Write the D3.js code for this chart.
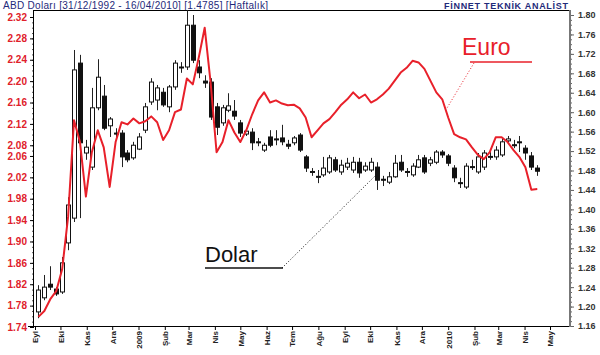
<!DOCTYPE html>
<html>
<head>
<meta charset="utf-8">
<script src="https://cdn.jsdelivr.net/npm/d3@7"></script>
<style>
  body { margin: 0; background: #fff; }
  svg { display: block; font-family: "Liberation Sans", Arial, sans-serif; }
</style>
</head>
<body>
<div id="chart"></div>
<script>
// weekly bars, first Friday of the series
const firstWeek = "2008-09-05";

// USD/TRY weekly candles (right axis)
const dolarOpen = [1.189,1.218,1.246,1.236,1.230,1.331,1.382,1.701,1.516,1.487,
  1.609,1.633,1.572,1.557,1.557,1.516,1.506,1.524,1.563,1.621,
  1.625,1.641,1.611,1.652,1.693,1.693,1.779,1.693,1.664,1.662,
  1.611,1.578,1.604,1.602,1.578,1.555,1.559,1.539,1.522,1.549,
  1.545,1.547,1.534,1.537,1.553,1.508,1.476,1.468,1.471,1.477,
  1.502,1.477,1.487,1.481,1.497,1.481,1.481,1.487,1.462,1.456,
  1.467,1.497,1.478,1.471,1.487,1.506,1.495,1.497,1.518,1.510,
  1.485,1.455,1.446,1.488,1.477,1.487,1.507,1.508,1.512,1.541,
  1.533,1.539,1.526,1.510,1.485];
const dolarHigh = [1.244,1.265,1.283,1.240,1.302,1.425,1.728,1.718,1.543,1.650,
  1.709,1.656,1.590,1.567,1.563,1.522,1.539,1.557,1.619,1.670,
  1.656,1.650,1.656,1.707,1.703,1.810,1.800,1.707,1.676,1.670,
  1.619,1.615,1.639,1.625,1.584,1.567,1.567,1.547,1.537,1.563,
  1.563,1.574,1.543,1.551,1.557,1.512,1.485,1.481,1.508,1.512,
  1.508,1.502,1.506,1.508,1.506,1.497,1.506,1.497,1.469,1.477,
  1.512,1.512,1.485,1.495,1.512,1.512,1.508,1.522,1.522,1.514,
  1.491,1.465,1.495,1.502,1.516,1.522,1.518,1.530,1.547,1.551,
  1.543,1.551,1.532,1.518,1.491];
const dolarLow = [1.176,1.213,1.234,1.222,1.226,1.316,1.374,1.382,1.502,1.481,
  1.604,1.563,1.549,1.547,1.487,1.497,1.502,1.522,1.557,1.615,
  1.604,1.611,1.600,1.646,1.681,1.687,1.701,1.670,1.650,1.584,
  1.553,1.572,1.600,1.584,1.549,1.551,1.522,1.530,1.518,1.528,
  1.532,1.532,1.524,1.532,1.518,1.477,1.469,1.454,1.467,1.473,
  1.477,1.471,1.481,1.475,1.465,1.477,1.477,1.440,1.448,1.452,
  1.465,1.477,1.467,1.467,1.485,1.473,1.489,1.493,1.506,1.489,
  1.456,1.444,1.442,1.481,1.473,1.481,1.502,1.502,1.508,1.537,
  1.526,1.518,1.502,1.481,1.469];
const dolarClose = [1.234,1.240,1.240,1.226,1.290,1.409,1.687,1.537,1.528,1.609,
  1.672,1.567,1.586,1.555,1.508,1.502,1.532,1.549,1.611,1.662,
  1.650,1.615,1.652,1.701,1.691,1.779,1.707,1.681,1.660,1.590,
  1.569,1.609,1.613,1.592,1.557,1.561,1.537,1.538,1.532,1.532,
  1.544,1.539,1.530,1.547,1.522,1.485,1.478,1.466,1.485,1.506,
  1.481,1.491,1.495,1.497,1.475,1.489,1.497,1.460,1.460,1.467,
  1.495,1.481,1.476,1.489,1.502,1.477,1.502,1.518,1.512,1.495,
  1.465,1.453,1.489,1.486,1.508,1.516,1.509,1.522,1.539,1.545,
  1.531,1.537,1.516,1.487,1.4785];

// EUR/TRY weekly close (left axis)
const euroClose = [1.759,1.770,1.792,1.807,1.848,1.946,2.127,2.086,1.984,2.067,
  2.108,2.076,2.002,2.086,2.123,2.119,2.130,2.121,2.125,2.134,
  2.123,2.090,2.108,2.142,2.147,2.205,2.194,2.244,2.300,2.197,
  2.067,2.086,2.127,2.104,2.086,2.108,2.138,2.164,2.179,2.160,
  2.164,2.158,2.155,2.156,2.149,2.132,2.095,2.108,2.121,2.129,
  2.142,2.156,2.166,2.179,2.168,2.175,2.160,2.166,2.175,2.186,
  2.201,2.216,2.225,2.238,2.235,2.223,2.201,2.179,2.166,2.132,
  2.101,2.095,2.091,2.076,2.062,2.054,2.067,2.095,2.095,2.086,
  2.071,2.058,2.039,1.997,1.998];

const euroTicks = [2.32,2.28,2.24,2.20,2.16,2.12,2.08,2.06,2.02,1.98,1.94,1.90,1.86,1.82,1.78,1.74];
const dolarTicks = [1.80,1.76,1.72,1.68,1.64,1.60,1.56,1.52,1.48,1.44,1.40,1.36,1.32,1.28,1.24,1.20,1.16];
const monthStarts = ["2008-09-01","2008-10-01","2008-11-01","2008-12-01","2009-01-01","2009-02-01",
  "2009-03-01","2009-04-01","2009-05-01","2009-06-01","2009-07-01","2009-08-01","2009-09-01",
  "2009-10-01","2009-11-01","2009-12-01","2010-01-01","2010-02-01","2010-03-01","2010-04-01","2010-05-01"];
const monthLabels = ["Eyl","Eki","Kas","Ara","2009","Şub","Mar","Nis","May","Haz","Tem","Ağu",
  "Eyl","Eki","Kas","Ara","2010","Şub","Mar","Nis","May"];

(function () {
  const L = 34, R = 570, T = 11, B = 327;
  const parse = d3.timeParse("%Y-%m-%d");

  const weeks = dolarOpen.map((o, i) => d3.timeWeek.offset(parse(firstWeek), i));
  const candles = weeks.map((d, i) => ({
    date: d, o: dolarOpen[i], h: dolarHigh[i], l: dolarLow[i], c: dolarClose[i]
  }));

  const x = d3.scaleTime()
    .domain([parse("2008-09-01"), parse("2010-05-01")])
    .range([35, 550]);
  const yEuro = d3.scaleLinear().domain([1.74, 2.32]).range([327, 17]);
  const yDolar = d3.scaleLinear().domain([1.16, 1.80]).range([326, 15]);

  const svg = d3.select("#chart").append("svg")
    .attr("width", 600)
    .attr("height", 355);

  // header
  svg.append("text")
    .attr("x", 3).attr("y", 9)
    .attr("fill", "#1f2a7a")
    .attr("textLength", 265)
    .style("font-size", "10px")
    .text("ABD Doları [31/12/1992 - 16/04/2010] [1.4785] [Haftalık]");
  svg.append("text")
    .attr("x", 568).attr("y", 9)
    .attr("text-anchor", "end")
    .attr("fill", "#1f2a7a")
    .attr("textLength", 124)
    .style("font-size", "9px")
    .style("font-weight", "bold")
    .text("FİNNET TEKNİK ANALİST");

  // left axis (euro)
  const leftMinor = svg.append("g").attr("transform", `translate(${L},0)`)
    .call(d3.axisLeft(yEuro).tickValues(d3.range(1.74, 2.325, 0.01)).tickSize(2).tickFormat(""));
  const left = svg.append("g").attr("transform", `translate(${L},0)`)
    .call(d3.axisLeft(yEuro).tickValues(euroTicks).tickSize(4).tickPadding(3).tickFormat(d3.format(".2f")));
  left.selectAll("text").attr("fill", "#e0202a").style("font-size", "10px").style("font-weight", "bold");

  // right axis (dolar)
  const rightMinor = svg.append("g").attr("transform", `translate(${R},0)`)
    .call(d3.axisRight(yDolar).tickValues(d3.range(1.16, 1.805, 0.01)).tickSize(2).tickFormat(""));
  const right = svg.append("g").attr("transform", `translate(${R},0)`)
    .call(d3.axisRight(yDolar).tickValues(dolarTicks).tickSize(4).tickPadding(4).tickFormat(d3.format(".2f")));
  right.selectAll("text").attr("fill", "#333").style("font-size", "9px").style("font-weight", "bold");

  [leftMinor, left, rightMinor, right].forEach(g => g.select(".domain").remove());
  leftMinor.selectAll("line").attr("stroke", "#555");
  rightMinor.selectAll("line").attr("stroke", "#666");
  right.selectAll("line").attr("stroke", "#666");

  // bottom axis
  const bottom = svg.append("g").attr("transform", `translate(0,${B})`)
    .call(d3.axisBottom(x)
      .tickValues(monthStarts.map(parse))
      .tickSize(3)
      .tickFormat((d, i) => monthLabels[i]));
  bottom.select(".domain").remove();
  bottom.selectAll("text")
    .attr("transform", "rotate(-90)")
    .attr("text-anchor", "end")
    .attr("x", -4).attr("y", 0).attr("dy", "0.35em")
    .attr("fill", "#222")
    .style("font-size", "8px")
    .style("font-weight", "bold");

  // frame
  svg.append("line").attr("x1", L - 1).attr("x2", R + 1).attr("y1", T - 0.5).attr("y2", T - 0.5)
    .attr("stroke", "#000");
  svg.append("line").attr("x1", L - 6).attr("x2", R + 1).attr("y1", B - 0.5).attr("y2", B - 0.5)
    .attr("stroke", "#000");
  svg.append("line").attr("x1", L - 0.5).attr("x2", L - 0.5).attr("y1", T - 1).attr("y2", B)
    .attr("stroke", "#000");
  svg.append("line").attr("x1", R).attr("x2", R).attr("y1", T - 1).attr("y2", B)
    .attr("stroke", "#777").attr("stroke-width", 2);

  // candles
  const cg = svg.append("g");
  cg.selectAll("line.wick")
    .data(candles)
    .enter().append("line")
    .attr("class", "wick")
    .attr("x1", d => Math.round(x(d.date)) + 0.5)
    .attr("x2", d => Math.round(x(d.date)) + 0.5)
    .attr("y1", d => yDolar(d.h))
    .attr("y2", d => yDolar(d.l))
    .attr("stroke", "#222");
  cg.selectAll("rect.body")
    .data(candles)
    .enter().append("rect")
    .attr("class", "body")
    .attr("x", d => Math.round(x(d.date)) - 1.5)
    .attr("y", d => yDolar(Math.max(d.o, d.c)))
    .attr("width", 4)
    .attr("height", d => Math.max(1, Math.abs(yDolar(d.o) - yDolar(d.c))))
    .attr("fill", d => d.c >= d.o ? "#fff" : "#111")
    .attr("stroke", "#111")
    .attr("stroke-width", 1);

  // euro line
  const line = d3.line()
    .x((d, i) => x(weeks[i]))
    .y(d => yEuro(d));
  svg.append("path")
    .datum(euroClose)
    .attr("fill", "none")
    .attr("stroke", "#e8202a")
    .attr("stroke-width", 2)
    .attr("stroke-linejoin", "round")
    .attr("d", line);

  // annotations
  svg.append("text")
    .attr("x", 462).attr("y", 55)
    .attr("fill", "#e8202a")
    .style("font-size", "23px")
    .text("Euro");
  svg.append("line").attr("x1", 470).attr("x2", 532).attr("y1", 62).attr("y2", 62)
    .attr("stroke", "#e8202a").attr("stroke-width", 1.5);
  svg.append("line").attr("x1", 474).attr("x2", 447).attr("y1", 63).attr("y2", 108)
    .attr("stroke", "#e8202a").attr("stroke-dasharray", "1,2");

  svg.append("text")
    .attr("x", 205).attr("y", 262)
    .attr("fill", "#111")
    .style("font-size", "22px")
    .text("Dolar");
  svg.append("line").attr("x1", 205).attr("x2", 283).attr("y1", 268).attr("y2", 268)
    .attr("stroke", "#111").attr("stroke-width", 1.5);
  svg.append("line").attr("x1", 282).attr("x2", 375).attr("y1", 268).attr("y2", 176)
    .attr("stroke", "#111").attr("stroke-dasharray", "1,2");
})();
</script>
</body>
</html>
